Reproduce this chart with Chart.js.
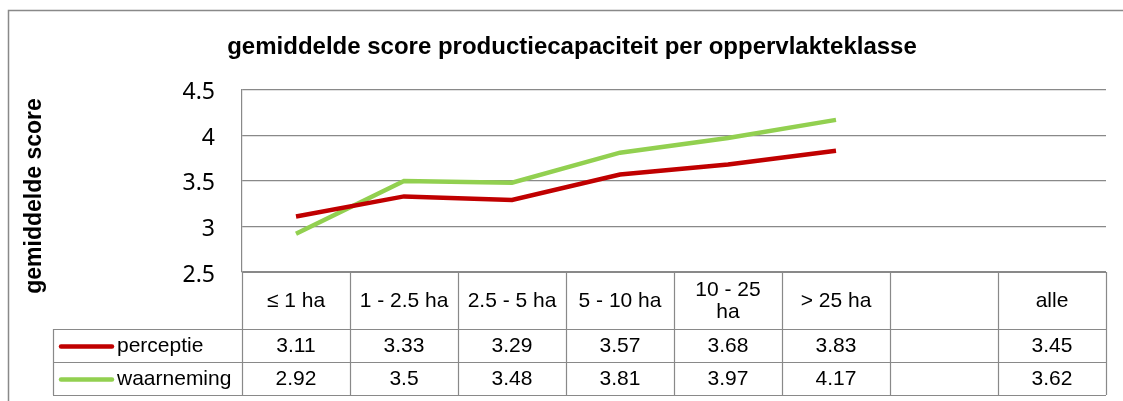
<!DOCTYPE html>
<html>
<head>
<meta charset="utf-8">
<script src="https://cdn.jsdelivr.net/npm/chart.js@4/dist/chart.umd.min.js"></script>
<style>
  html, body { margin: 0; padding: 0; background: #fff; }
  #wrap { width: 1123px; height: 401px; }
</style>
</head>
<body>
<div id="wrap"><canvas id="scoreChart"></canvas></div>
<script>
const categories = ["≤ 1 ha", "1 - 2.5 ha", "2.5 - 5 ha", "5 - 10 ha", ["10 - 25", "ha"], "> 25 ha", "", "alle"];
const perceptie = [3.11, 3.33, 3.29, 3.57, 3.68, 3.83, null, 3.45];
const waarneming = [2.92, 3.5, 3.48, 3.81, 3.97, 4.17, null, 3.62];
const seriesNames = ["perceptie", "waarneming"];
const seriesColors = ["#C00000", "#92D050"];
const yTicks = [2.5, 3, 3.5, 4, 4.5];

const gridGrey = "#898989";
const tableFont = "21px 'Liberation Sans', Arial, sans-serif";

// draws the outer frame, the rotated axis title and the data table under the plot
const tablePlugin = {
    id: "dataTable",
    afterDraw(chart) {
        const ctx = chart.ctx;
        const x = chart.scales.x;
        const area = chart.chartArea;
        const colW = (area.right - area.left) / categories.length;
        const headerBottom = area.bottom + 57;
        const rowH = 33;
        const legendLeft = 53;

        ctx.save();
        // outer frame
        ctx.strokeStyle = gridGrey;
        ctx.lineWidth = 1.5;
        ctx.strokeRect(8.5, 10.5, 1200, 500);

        // y axis title
        ctx.save();
        ctx.translate(35, 196);
        ctx.rotate(-Math.PI / 2);
        ctx.fillStyle = "#000";
        ctx.font = "bold 23px 'Liberation Sans', Arial, sans-serif";
        ctx.textAlign = "center";
        ctx.textBaseline = "middle";
        ctx.fillText("gemiddelde score", 0, 0);
        ctx.restore();

        // table grid
        ctx.lineWidth = 1.2;
        ctx.strokeStyle = gridGrey;
        ctx.beginPath();
        for (let i = 0; i <= categories.length; i++) {
            const cx = Math.round(area.left + i * colW) + 0.5;
            ctx.moveTo(cx, area.bottom);
            ctx.lineTo(cx, headerBottom + rowH * 2);
        }
        ctx.moveTo(area.left, area.bottom + 0.5);
        ctx.lineTo(area.right, area.bottom + 0.5);
        for (let r = 0; r <= 2; r++) {
            const ry = Math.round(headerBottom + r * rowH) + 0.5;
            ctx.moveTo(legendLeft, ry);
            ctx.lineTo(area.right, ry);
        }
        ctx.moveTo(legendLeft + 0.5, headerBottom);
        ctx.lineTo(legendLeft + 0.5, headerBottom + rowH * 2);
        ctx.stroke();

        ctx.fillStyle = "#000";
        ctx.font = tableFont;
        ctx.textAlign = "center";
        ctx.textBaseline = "middle";
        const headerMid = (area.bottom + headerBottom) / 2 + 1;
        categories.forEach((label, i) => {
            const cx = x.getPixelForValue(i);
            const lines = Array.isArray(label) ? label : [label];
            lines.forEach((ln, k) => {
                const ly = headerMid + (k - (lines.length - 1) / 2) * 22;
                ctx.fillText(ln, cx, ly);
            });
        });

        chart.data.datasets.forEach((ds, r) => {
            const ry = headerBottom + r * rowH + rowH / 2 + 1;
            // legend key
            ctx.strokeStyle = ds.borderColor;
            ctx.lineWidth = 4.5;
            ctx.lineCap = "round";
            ctx.beginPath();
            ctx.moveTo(61, ry);
            ctx.lineTo(112, ry);
            ctx.stroke();
            ctx.textAlign = "left";
            ctx.fillText(ds.label, 117, ry);
            ctx.textAlign = "center";
            ds.data.forEach((v, i) => {
                if (v === null) return;
                ctx.fillText(String(v), x.getPixelForValue(i), ry);
            });
        });
        ctx.restore();
    }
};

const ctx = document.getElementById("scoreChart").getContext("2d");
const scoreChart = new Chart(ctx, {
    type: "line",
    data: {
        labels: categories,
        datasets: [{
            label: seriesNames[0],
            data: perceptie,
            borderColor: seriesColors[0],
            backgroundColor: seriesColors[0],
            borderWidth: 4.5,
            pointRadius: 0,
            tension: 0,
            spanGaps: false
        }, {
            label: seriesNames[1],
            data: waarneming,
            borderColor: seriesColors[1],
            backgroundColor: seriesColors[1],
            borderWidth: 4.5,
            pointRadius: 0,
            tension: 0,
            spanGaps: false
        }]
    },
    options: {
        responsive: true,
        maintainAspectRatio: false,
        animation: false,
        events: [],
        layout: {
            padding: { left: 38, right: 17, top: 0, bottom: 129 }
        },
        plugins: {
            legend: { display: false },
            tooltip: { enabled: false },
            title: {
                display: true,
                text: "gemiddelde score productiecapaciteit per oppervlakteklasse",
                color: "#000",
                font: { family: "'Liberation Sans', Arial, sans-serif", size: 24, weight: "bold" },
                padding: { top: 33, bottom: 28 }
            }
        },
        scales: {
            x: {
                display: false,
                offset: true
            },
            y: {
                min: 2.5,
                max: 4.5,
                afterFit(scale) { scale.width = 204; },
                afterBuildTicks(scale) { scale.ticks = yTicks.map(v => ({ value: v })); },
                border: { display: true, color: gridGrey, width: 1.2 },
                grid: { color: gridGrey, lineWidth: 1.2, drawTicks: false },
                ticks: {
                    color: "#000",
                    padding: 27,
                    labelOffset: 3,
                    font: { family: "'Noto Sans', sans-serif", size: 23 },
                    callback: v => String(v)
                }
            }
        }
    },
    plugins: [tablePlugin]
});
</script>
</body>
</html>
